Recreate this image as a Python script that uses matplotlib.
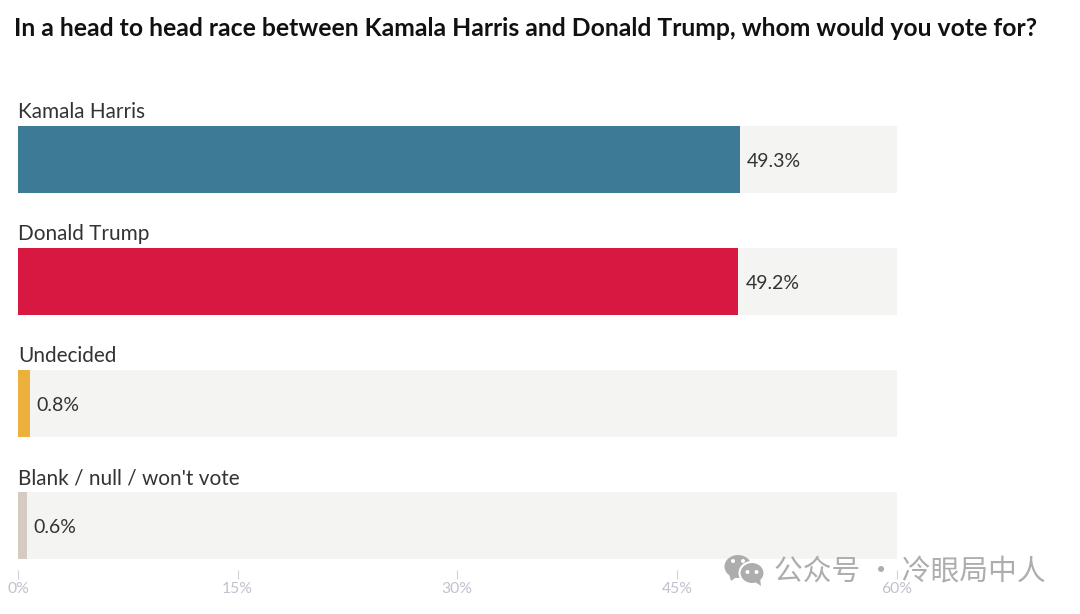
import matplotlib
matplotlib.use("Agg")
import matplotlib.pyplot as plt
from matplotlib.patches import Ellipse, Polygon

categories = ["Kamala Harris", "Donald Trump", "Undecided", "Blank / null / won't vote"]
values = [49.3, 49.2, 0.8, 0.6]
colors = ["#3c7a96", "#d81840", "#ecb03c", "#d6cbc3"]
track_max = 60
xticks = [0, 15, 30, 45, 60]
title = "In a head to head race between Kamala Harris and Donald Trump, whom would you vote for?"
watermark = "公众号 · 冷眼局中人"

W, H = 1080, 614
plt.rcParams["font.family"] = ["Lato", "DejaVu Sans"]
fig = plt.figure(figsize=(W / 100, H / 100), dpi=100, facecolor="white")
L, R, T, B = 18, 896.5, 100, 570
ax = fig.add_axes([L / W, 1 - B / H, (R - L) / W, (B - T) / H])
ax.set_xlim(0, track_max)
ax.set_ylim(3.366, -0.487)
for s in ax.spines.values():
    s.set_visible(False)

pos = list(range(len(categories)))
bar_h = 67 / 122
ax.barh(pos, [track_max] * len(pos), height=bar_h, color="#f4f4f2", linewidth=0, zorder=1)
ax.barh(pos, values, height=bar_h, color=colors, linewidth=0, zorder=2)

for p, c, v in zip(pos, categories, values):
    ax.annotate(c, (0, p), xytext=(0, 33.5 + 7.5), textcoords="offset pixels",
                fontsize=14.95, color="#333333", va="baseline", ha="left")
    ax.annotate(f"{v}%", (v, p), xytext=(7, -1), textcoords="offset pixels",
                fontsize=14, color="#333333", va="center_baseline", ha="left")

ax.set_yticks([])
ax.set_xticks(xticks)
ax.set_xticklabels([f"{t}%" for t in xticks])
ax.tick_params(axis="x", length=6.5, width=0.8, color="#d0d2da", labelcolor="#bfc2cd",
               labelsize=11.3, pad=2, direction="out")

fig.text(14 / W, 1 - 29 / H, title, fontsize=17.84, fontweight="bold", color="#111111",
         va="center", ha="left")

# Watermark
wm = fig.add_axes([0, 0, 1, 1], zorder=5)
wm.set_xlim(0, W); wm.set_ylim(H, 0); wm.axis("off"); wm.patch.set_alpha(0)
gray = "#adadad"
wm.add_patch(Ellipse((738, 566.5), 27, 23, color=gray, ec="none"))
wm.add_patch(Polygon([[729, 574], [731, 581], [738, 576]], color=gray, ec="none"))
wm.add_patch(Ellipse((752, 573), 25, 22, color=gray, ec="white", lw=1.5))
wm.add_patch(Polygon([[755, 582], [761, 586], [760, 578]], color=gray, ec="none"))
for cx, cy in [(733, 561), (743, 561), (747.5, 572), (756.5, 572)]:
    wm.add_patch(Ellipse((cx, cy), 4, 4, color="white", ec="none"))
wm.text(774, 572, watermark, fontsize=20.7, color=gray, va="center", ha="left",
        family=["Noto Sans CJK SC", "DejaVu Sans"])

fig.savefig("out.png", dpi=100, facecolor="white")
